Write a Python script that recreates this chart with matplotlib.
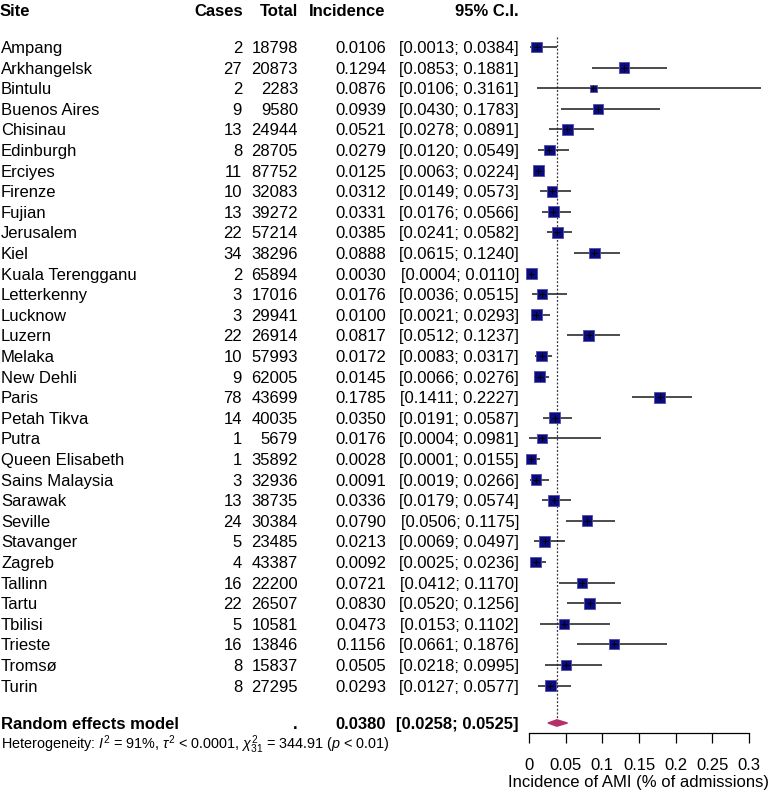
import matplotlib
matplotlib.use("Agg")
import matplotlib.pyplot as plt
import matplotlib.transforms as mtransforms
from matplotlib.patches import Polygon

plt.rcParams['font.family'] = ['Liberation Sans', 'DejaVu Sans']
plt.rcParams['mathtext.fontset'] = 'custom'
plt.rcParams['mathtext.rm'] = 'Liberation Sans'
plt.rcParams['mathtext.it'] = 'Liberation Sans:italic'

sites = ["Ampang", "Arkhangelsk", "Bintulu", "Buenos Aires", "Chisinau", "Edinburgh",
         "Erciyes", "Firenze", "Fujian", "Jerusalem", "Kiel", "Kuala Terengganu",
         "Letterkenny", "Lucknow", "Luzern", "Melaka", "New Dehli", "Paris",
         "Petah Tikva", "Putra", "Queen Elisabeth", "Sains Malaysia", "Sarawak",
         "Seville", "Stavanger", "Zagreb", "Tallinn", "Tartu", "Tbilisi", "Trieste",
         "Tromsø", "Turin"]
cases = [2, 27, 2, 9, 13, 8, 11, 10, 13, 22, 34, 2, 3, 3, 22, 10, 9, 78, 14, 1, 1, 3,
         13, 24, 5, 4, 16, 22, 5, 16, 8, 8]
totals = [18798, 20873, 2283, 9580, 24944, 28705, 87752, 32083, 39272, 57214, 38296,
          65894, 17016, 29941, 26914, 57993, 62005, 43699, 40035, 5679, 35892, 32936,
          38735, 30384, 23485, 43387, 22200, 26507, 10581, 13846, 15837, 27295]
incidence = [0.0106, 0.1294, 0.0876, 0.0939, 0.0521, 0.0279, 0.0125, 0.0312, 0.0331,
             0.0385, 0.0888, 0.0030, 0.0176, 0.0100, 0.0817, 0.0172, 0.0145, 0.1785,
             0.0350, 0.0176, 0.0028, 0.0091, 0.0336, 0.0790, 0.0213, 0.0092, 0.0721,
             0.0830, 0.0473, 0.1156, 0.0505, 0.0293]
ci_lower = [0.0013, 0.0853, 0.0106, 0.0430, 0.0278, 0.0120, 0.0063, 0.0149, 0.0176,
            0.0241, 0.0615, 0.0004, 0.0036, 0.0021, 0.0512, 0.0083, 0.0066, 0.1411,
            0.0191, 0.0004, 0.0001, 0.0019, 0.0179, 0.0506, 0.0069, 0.0025, 0.0412,
            0.0520, 0.0153, 0.0661, 0.0218, 0.0127]
ci_upper = [0.0384, 0.1881, 0.3161, 0.1783, 0.0891, 0.0549, 0.0224, 0.0573, 0.0566,
            0.0582, 0.1240, 0.0110, 0.0515, 0.0293, 0.1237, 0.0317, 0.0276, 0.2227,
            0.0587, 0.0981, 0.0155, 0.0266, 0.0574, 0.1175, 0.0497, 0.0236, 0.1170,
            0.1256, 0.1102, 0.1876, 0.0995, 0.0577]
# random-effects weights (%), estimated from square sizes
weights = [3.3, 3.1, 1.45, 2.7, 3.1, 3.1, 3.3, 3.1, 3.3, 3.2, 3.2, 3.3, 2.8, 3.1, 3.2,
           3.3, 3.2, 3.2, 3.3, 2.4, 3.1, 2.9, 3.2, 3.2, 3.1, 3.1, 2.8, 3.2, 2.8, 2.8,
           2.8, 3.1]

re_est, re_lower, re_upper = 0.0380, 0.0258, 0.0525
headers = ["Site", "Cases", "Total", "Incidence", "95% C.I."]
xticks = [0, 0.05, 0.1, 0.15, 0.2, 0.25, 0.3]
xtick_labels = ["0", "0.05", "0.1", "0.15", "0.2", "0.25", "0.3"]

W, H = 784, 795
row0, step = 47.0, 20.6


def row_of(px):
    return (px - row0) / step


fig = plt.figure(figsize=(W / 100, H / 100), dpi=100)
ax = fig.add_axes([529 / W, 0, 220 / W, 1])
ax.set_xlim(0, 0.3)
ax.set_ylim(row_of(H), row_of(0))
ax.patch.set_visible(False)

trans = mtransforms.blended_transform_factory(fig.transFigure, ax.transData)
fs = 12
va = 'center_baseline'

# header
y_head = row_of(10)
ax.text(0 / W, y_head, headers[0], transform=trans, ha='left', va=va,
        fontsize=fs, fontweight='bold')
for h, xr in zip(headers[1:], [243, 298, 385, 519]):
    ax.text(xr / W, y_head, h, transform=trans, ha='right', va=va,
            fontsize=fs, fontweight='bold')

# study rows
rows = list(range(len(sites)))
for i in rows:
    ax.text(1 / W, i, sites[i], transform=trans, ha='left', va=va, fontsize=fs)
    ax.text(242 / W, i, str(cases[i]), transform=trans, ha='right', va=va, fontsize=fs)
    ax.text(298 / W, i, str(totals[i]), transform=trans, ha='right', va=va, fontsize=fs)
    ax.text(386 / W, i, f"{incidence[i]:.4f}", transform=trans, ha='right', va=va, fontsize=fs)
    ax.text(519 / W, i, f"[{ci_lower[i]:.4f}; {ci_upper[i]:.4f}]", transform=trans,
            ha='right', va=va, fontsize=fs)
    ax.plot([ci_lower[i], ci_upper[i]], [i, i], color='#1a1a1a', lw=1.1,
            solid_capstyle='butt', clip_on=False, zorder=2)

ax.scatter(incidence, rows, s=[19 * w for w in weights], marker='s', color='#0b0b80',
           edgecolors='#5050a8', linewidths=0.6, zorder=3, clip_on=False)
ax.scatter(incidence, rows, s=22, marker='+', color='black', linewidths=0.8, zorder=4)

# summary
y_sum = row_of(723)
ax.text(1 / W, y_sum, "Random effects model", transform=trans, ha='left', va=va,
        fontsize=fs, fontweight='bold')
ax.text(298 / W, y_sum, ".", transform=trans, ha='right', va=va, fontsize=fs,
        fontweight='bold')
ax.text(386 / W, y_sum, f"{re_est:.4f}", transform=trans, ha='right', va=va,
        fontsize=fs, fontweight='bold')
ax.text(519 / W, y_sum, f"[{re_lower:.4f}; {re_upper:.4f}]", transform=trans,
        ha='right', va=va, fontsize=fs, fontweight='bold')
dh = 3.2 / step
ax.add_patch(Polygon([[re_lower, y_sum], [re_est, y_sum - dh], [re_upper, y_sum],
                      [re_est, y_sum + dh]], closed=True, color='#b3306a', zorder=3))
ax.plot([re_est, re_est], [row_of(37), y_sum - dh], color='#333333', lw=0.9,
        ls=(0, (1.5, 1.5)), zorder=1)

ax.text(1 / W, row_of(741),
        r"Heterogeneity: $I^2$ = 91%, $\tau^2$ < 0.0001, $\chi^2_{31}$ = 344.91 ($p$ < 0.01)",
        transform=trans, ha='left', va=va, fontsize=10.4)

# x axis
for s in ['top', 'left', 'right']:
    ax.spines[s].set_visible(False)
ax.spines['bottom'].set_position(('data', row_of(733)))
ax.spines['bottom'].set_bounds(0, 0.3)
ax.spines['bottom'].set_linewidth(0.9)
ax.set_yticks([])
ax.set_xticks(xticks)
ax.set_xticklabels(xtick_labels)
ax.tick_params(axis='x', direction='out', length=7.2, width=0.9, pad=11, labelsize=fs)
ax.set_xlabel("Incidence of AMI (% of admissions)", fontsize=fs, labelpad=1)

fig.savefig("out.png", dpi=100)
